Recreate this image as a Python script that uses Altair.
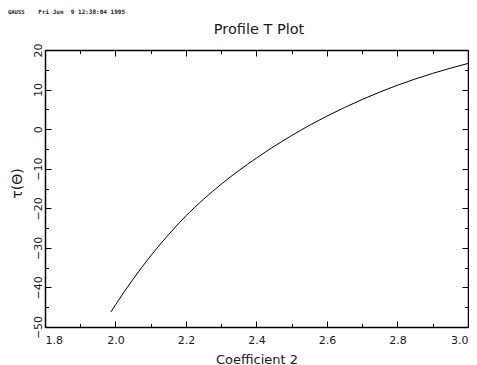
import altair as alt
import pandas as pd

# ---- data ----
coef = [1.987, 2.0, 2.05, 2.1, 2.15, 2.2, 2.25, 2.3, 2.4, 2.5, 2.6, 2.7, 2.8, 2.9, 3.0]
tau = [-46.2, -44.4, -37.9, -32.0, -26.7, -21.9, -17.7, -13.9, -7.3, -1.6, 3.3, 7.5, 11.1, 14.1, 16.6]

x_major = [1.8, 2.0, 2.2, 2.4, 2.6, 2.8, 3.0]
x_minor = [1.9, 2.1, 2.3, 2.5, 2.7, 2.9]
y_major = [-50, -40, -30, -20, -10, 0, 10, 20]
y_minor = [-45, -35, -25, -15, -5, 5, 15]

plot_title = "Profile T Plot"
x_title = "Coefficient 2"
y_title = "τ(Θ)"
header_left = "GAUSS"
header_right = "Fri Jun\u00a0\u00a09 12:38:04 1995"

FONT = "DejaVu Sans"
INK = "#1a1a1a"

df = pd.DataFrame({"coef": coef, "tau": tau})
xscale = alt.Scale(domain=[1.8, 3.0], nice=False, zero=False)
yscale = alt.Scale(domain=[-50, 20], nice=False, zero=False)

base = alt.Chart(df)


def line_layer(xaxis, yaxis, opacity):
    return base.mark_line(color="black", strokeWidth=1, opacity=opacity,
                          interpolate="monotone").encode(
        x=alt.X("coef:Q", scale=xscale, axis=xaxis),
        y=alt.Y("tau:Q", scale=yscale, axis=yaxis),
    )


def tick_axis(orient, values, size, domain=False):
    return alt.Axis(orient=orient, values=values, labels=False, ticks=True,
                    tickSize={"expr": str(-size)}, tickColor="black", tickWidth=1,
                    domain=domain, domainColor="black", domainWidth=1.5,
                    grid=False, title="")


x_label_axis = alt.Axis(
    orient="bottom", values=x_major, format=".1f", ticks=False, grid=False,
    domain=True, domainColor="black", domainWidth=1.5,
    labelFont=FONT, labelFontSize=11, labelColor=INK, labelPadding=7.5,
    labelBaseline="top", labelFlush=False, labelOverlap=False,
    labelAlign={"condition": [
        {"test": "datum.value <= 1.8", "value": "left"},
        {"test": "datum.value >= 3.0", "value": "right"},
    ], "value": "center"},
    title=x_title, titleFont=FONT, titleFontSize=13, titleFontWeight="normal",
    titleColor=INK, titleX=211.5, titleY=36, titleAlign="center",
    titleBaseline="alphabetic",
)

y_label_axis = alt.Axis(
    orient="left", values=y_major, format="d", ticks=False, grid=False,
    domain=True, domainColor="black", domainWidth=1.5,
    labelFont=FONT, labelFontSize=11, labelColor=INK, labelPadding=4,
    labelAngle=270, labelAlign="center", labelBaseline="alphabetic",
    labelFlush=False, labelOverlap=False,
    title=y_title, titleFont=FONT, titleFontSize=14, titleFontWeight="normal",
    titleColor=INK, titleAngle=270, titleX=-28, titleY=133,
    titleAlign="center", titleBaseline="middle",
)

l1 = line_layer(x_label_axis, y_label_axis, 1)
l2 = line_layer(tick_axis("bottom", x_major, 6), tick_axis("left", y_major, 6), 0)
l3 = line_layer(tick_axis("bottom", x_minor, 3.5), tick_axis("left", y_minor, 3.5), 0)
l4 = line_layer(tick_axis("top", x_major, 6, True), tick_axis("right", y_major, 6, True), 0)
l5 = line_layer(tick_axis("top", x_minor, 3.5), tick_axis("right", y_minor, 3.5), 0)

title_mark = alt.Chart(pd.DataFrame({"t": [plot_title]})).mark_text(
    font=FONT, fontSize=14.5, color=INK, align="center", baseline="alphabetic"
).encode(text="t:N", x=alt.value(214), y=alt.value(-16))

head_l = alt.Chart(pd.DataFrame({"t": [header_left]})).mark_text(
    font="DejaVu Sans Mono", fontSize=5.5, fontWeight="bold", color="#222222",
    align="left", baseline="middle"
).encode(text="t:N", x=alt.value(-37), y=alt.value(-38.5))

head_r = alt.Chart(pd.DataFrame({"t": [header_right]})).mark_text(
    font="DejaVu Sans Mono", fontSize=6, fontWeight="bold", color="#222222",
    align="left", baseline="middle"
).encode(text="t:N", x=alt.value(-6.7), y=alt.value(-38.5))

chart = alt.layer(l2, l3, l4, l5, l1, title_mark, head_l, head_r).resolve_axis(
    x="independent", y="independent"
).properties(
    width=423, height=277,
    autosize=alt.AutoSizeParams(type="none"),
    padding={"left": 37, "top": 42, "right": 1, "bottom": 38},
    background="white",
).configure_view(strokeWidth=0)

chart.save("out.html", embed_options={"renderer": "svg", "actions": False})
